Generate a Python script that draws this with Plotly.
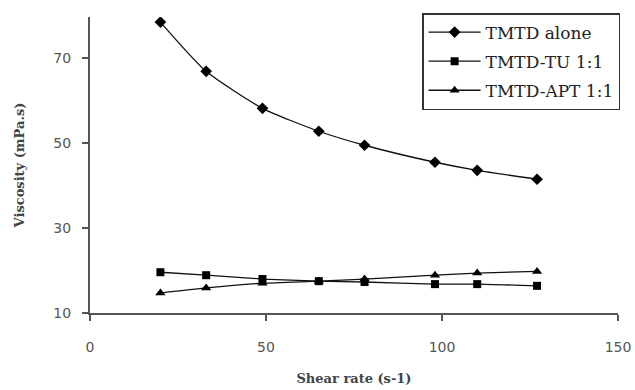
import plotly.graph_objects as go

# Shear rate (s-1)
shear_rate = [20, 33, 49, 65, 78, 98, 110, 127]

# Viscosity (mPa.s) for each formulation
tmtd_alone = [78.5, 66.9, 58.2, 52.8, 49.5, 45.5, 43.6, 41.5]
tmtd_tu = [19.6, 18.9, 18.0, 17.5, 17.3, 16.8, 16.8, 16.4]
tmtd_apt = [14.7, 15.9, 17.0, 17.5, 18.0, 18.9, 19.4, 19.8]

series = [
    ("TMTD alone", tmtd_alone, "diamond", 9),
    ("TMTD-TU 1:1", tmtd_tu, "square", 8),
    ("TMTD-APT 1:1", tmtd_apt, "triangle-up", 9),
]

fig = go.Figure()
for name, values, symbol, size in series:
    fig.add_trace(go.Scatter(
        x=shear_rate, y=values, name=name, legendgroup=name,
        mode="lines+markers",
        line=dict(color="#111111", width=1.3, shape="spline", smoothing=0.6),
        marker=dict(symbol=symbol, size=size, color="#000000"),
    ))

axis_common = dict(
    showline=True, linecolor="#555555", linewidth=2,
    ticks="outside", ticklen=6, tickwidth=1.5, tickcolor="#555555",
    showgrid=False, zeroline=False,
    tickfont=dict(family="DejaVu Sans", size=14, color="#555555"),
)
title_font = dict(family="DejaVu Serif", size=13, color="#444444", weight="bold")

fig.update_layout(
    width=635, height=390,
    margin=dict(l=90, r=17, t=17, b=77, autoexpand=False),
    plot_bgcolor="white", paper_bgcolor="white",
    xaxis=dict(
        range=[0, 150], tickvals=[0, 50, 100, 150],
        ticklabelstandoff=14,
        title=dict(text="Shear rate (s-1)", standoff=20, font=title_font),
        **axis_common,
    ),
    yaxis=dict(
        range=[10, 79.7], tickvals=[10, 30, 50, 70],
        ticklabelstandoff=8,
        title=dict(text="Viscosity (mPa.s)", standoff=26, font=title_font),
        **axis_common,
    ),
    legend=dict(
        x=0.629, y=1.0135, xanchor="left", yanchor="top",
        bordercolor="#333333", borderwidth=1.5, bgcolor="white",
        font=dict(family="DejaVu Serif", size=17, color="#222222"),
        tracegroupgap=4, itemwidth=52,
    ),
    showlegend=True,
)

fig.write_html("out.html")
